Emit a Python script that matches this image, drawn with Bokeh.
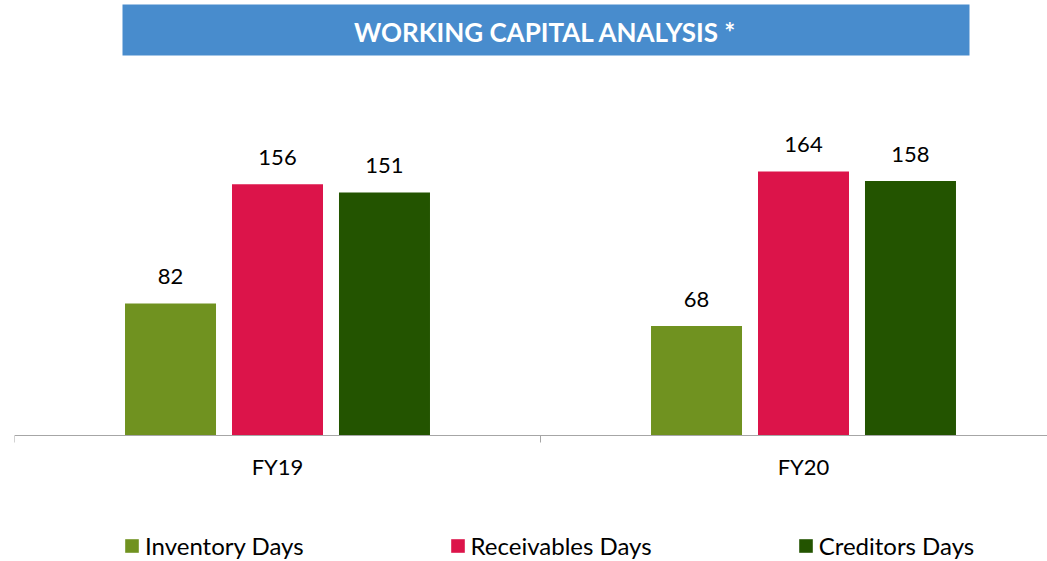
from bokeh.plotting import figure
from bokeh.models import (Range1d, FixedTicker, ColumnDataSource, LabelSet, Legend,
                          LegendItem, BoxAnnotation, Label)
from bokeh.core.properties import value
from bokeh.embed import file_html
from bokeh.resources import INLINE

categories = ["FY19", "FY20"]
series = ["Inventory Days", "Receivables Days", "Creditors Days"]
inventory = [82, 68]
receivables = [156, 164]
creditors = [151, 158]
title_text = "WORKING CAPITAL ANALYSIS *"

colors = ["#709220", "#DC144A", "#235400"]
values = [inventory, receivables, creditors]
offsets = [-0.2034, 0.0, 0.2034]
BAR_W = 0.173
PX_PER_UNIT = 1.61
AXIS_Y_PX = 435
FRAME_H = 561
FRAME_W = 1033
CAT_PX = 526
FONT = "Lato"

p = figure(frame_width=FRAME_W, frame_height=FRAME_H,
           x_range=Range1d(0, FRAME_W / CAT_PX),
           y_range=Range1d(-(FRAME_H - AXIS_Y_PX) / PX_PER_UNIT, AXIS_Y_PX / PX_PER_UNIT),
           output_backend="svg", toolbar_location=None, title=None,
           y_axis_location=None,
           min_border_left=14, min_border_right=0, min_border_top=0, min_border_bottom=0)
p.outline_line_color = None
p.xgrid.visible = False
p.ygrid.visible = False
p.background_fill_color = "white"
p.border_fill_color = "white"

ax = p.xaxis[0]
ax.fixed_location = 0
ax.ticker = FixedTicker(ticks=[i + 0.5 for i in range(len(categories))],
                        minor_ticks=[float(i) for i in range(len(categories) + 1)])
ax.major_label_overrides = {i + 0.5: c for i, c in enumerate(categories)}
ax.major_tick_line_color = None
ax.major_tick_out = 7
ax.major_tick_in = 0
ax.minor_tick_out = 7
ax.minor_tick_in = 0
ax.minor_tick_line_color = "#A6A6A6"
ax.axis_line_color = "#A6A6A6"
ax.major_label_text_font = FONT
ax.major_label_text_font_size = "22px"
ax.major_label_text_color = "#000000"
ax.major_label_standoff = 10

items = []
for i, name in enumerate(series):
    xs = [j + 0.5 + offsets[i] for j in range(len(categories))]
    src = ColumnDataSource(dict(x=xs, top=values[i], label=[str(v) for v in values[i]]))
    r = p.vbar(x="x", top="top", width=BAR_W, source=src, fill_color=colors[i],
               line_color=None)
    items.append(LegendItem(label=name, renderers=[r]))
    p.add_layout(LabelSet(x="x", y="top", text="label", source=src, text_align="center",
                          text_baseline="bottom", y_offset=19, text_font=value(FONT),
                          text_font_size=value("22px"), text_color=value("#000000")))

p.add_layout(BoxAnnotation(left=122, right=969, top=4, bottom=55,
                           left_units="canvas", right_units="canvas",
                           top_units="canvas", bottom_units="canvas",
                           fill_color="#488CCD", fill_alpha=1.0, line_color=None))
p.add_layout(Label(x=545, y=31, x_units="canvas", y_units="canvas", text=title_text,
                   text_align="center", text_baseline="middle", text_font=FONT,
                   text_font_style="bold", text_font_size="26px", text_color="white"))

legend = Legend(items=items, orientation="horizontal", location=(109, 1),
                glyph_width=17, glyph_height=17, label_standoff=5, spacing=145,
                label_text_font=FONT, label_text_font_size="24px",
                label_text_color="#000000", border_line_color=None,
                background_fill_alpha=0, padding=0, margin=0)
p.add_layout(legend)

open("out.html", "w").write(file_html(p, INLINE))
